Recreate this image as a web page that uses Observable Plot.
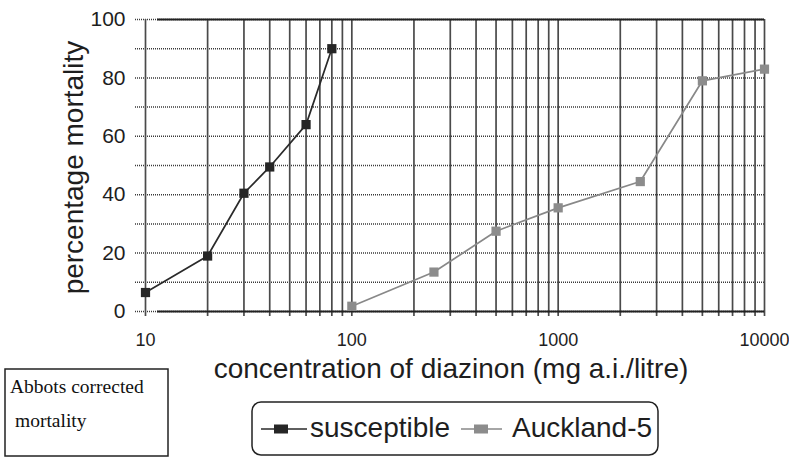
<!DOCTYPE html>
<html>
<head>
<meta charset="utf-8">
<script src="https://cdn.jsdelivr.net/npm/d3@7"></script>
<script src="https://cdn.jsdelivr.net/npm/@observablehq/plot@0.6"></script>
<style>
  html, body { margin: 0; padding: 0; background: #fff; }
  #chart { position: relative; width: 789px; height: 457px; overflow: hidden; background: #fff; }
  #chart svg { display: block; }
  #overlay { position: absolute; left: 0; top: 0; pointer-events: none; }
</style>
</head>
<body>
<div id="chart"></div>
<script>
// ---- data ----
const seriesNames = ["susceptible", "Auckland-5"];
const concSusceptible = [10, 20, 30, 40, 60, 80];
const mortSusceptible = [6.5, 19, 40.5, 49.5, 64, 90];
const concAuckland = [100, 250, 500, 1000, 2500, 5000, 10000];
const mortAuckland = [1.8, 13.5, 27.5, 35.5, 44.5, 79, 83];
const xTickLabels = [10, 100, 1000, 10000];
const yTickLabels = [0, 20, 40, 60, 80, 100];
const xDomain = [10, 10000];
const yDomain = [0, 100];
const xLabel = "concentration of diazinon (mg a.i./litre)";
const yLabel = "percentage mortality";
const noteLines = ["Abbots corrected", "mortality"];

const colors = {susceptible: "#2a2a2a", "Auckland-5": "#888888"};
const markerColors = {susceptible: "#262626", "Auckland-5": "#8c8c8c"};

const sus = concSusceptible.map((c, i) => ({conc: c, mort: mortSusceptible[i]}));
const auk = concAuckland.map((c, i) => ({conc: c, mort: mortAuckland[i]}));

// grid positions derived from the scales' own tick generators
const gridX = d3.scaleLog().domain(xDomain).ticks();
const gridY = d3.scaleLinear().domain(yDomain).ticks(10);

const plot = Plot.plot({
  width: 789,
  height: 457,
  marginLeft: 145,
  marginRight: 25,
  marginTop: 19,
  marginBottom: 146,
  x: {type: "log", domain: xDomain, axis: null},
  y: {domain: yDomain, axis: null},
  style: {fontFamily: "'Liberation Sans', Arial, Helvetica, sans-serif", color: "#1e1e1e", background: "white", overflow: "visible"},
  marks: [
    Plot.ruleY(gridY, {stroke: "#3a3a3a", strokeWidth: 1.5, strokeDasharray: "1,1", insetLeft: -10}),
    Plot.ruleX(gridX, {stroke: "#4a4a4a", strokeWidth: 1.7, insetBottom: -5}),
    Plot.ruleY(yDomain, {stroke: "#222", strokeWidth: 2, insetLeft: 12}),
    Plot.axisX({ticks: xTickLabels, tickSize: 0, tickPadding: 22, fontSize: 18, tickFormat: d => String(d), label: null}),
    Plot.axisY({ticks: yTickLabels, tickSize: 0, tickPadding: 20, fontSize: 21, tickFormat: d => String(d), label: null}),
    Plot.text([xLabel], {text: d => d, frameAnchor: "bottom", lineAnchor: "middle", textAnchor: "middle", dy: 58, dx: -4, fontSize: 28, fill: "#1e1e1e"}),
    Plot.text([yLabel], {text: d => d, frameAnchor: "left", lineAnchor: "middle", textAnchor: "middle", rotate: -90, dx: -71, dy: 2, fontSize: 28, fill: "#1e1e1e"}),
    Plot.line(sus, {x: "conc", y: "mort", stroke: colors.susceptible, strokeWidth: 1.7}),
    Plot.dot(sus, {x: "conc", y: "mort", symbol: "square", r: 5.2, fill: markerColors.susceptible, stroke: "none"}),
    Plot.line(auk, {x: "conc", y: "mort", stroke: colors["Auckland-5"], strokeWidth: 1.7}),
    Plot.dot(auk, {x: "conc", y: "mort", symbol: "square", r: 5.2, fill: markerColors["Auckland-5"], stroke: "none"})
  ]
});
document.getElementById("chart").appendChild(plot);

// ---- overlay: note box and legend ----
const ov = d3.select("#chart").append("svg")
  .attr("id", "overlay").attr("width", 789).attr("height", 457);

// note box
ov.append("rect").attr("x", 5).attr("y", 369).attr("width", 163).attr("height", 87)
  .attr("fill", "white").attr("stroke", "#222").attr("stroke-width", 1.5);
ov.append("text").attr("x", 10).attr("y", 393)
  .attr("font-family", "'Liberation Serif', 'Times New Roman', serif").attr("font-size", 19.5).attr("fill", "#111")
  .text(noteLines[0]);
ov.append("text").attr("x", 15).attr("y", 427)
  .attr("font-family", "'Liberation Serif', 'Times New Roman', serif").attr("font-size", 19.5).attr("fill", "#111")
  .text(noteLines[1]);

// legend
ov.append("rect").attr("x", 252).attr("y", 402).attr("width", 406).attr("height", 53).attr("rx", 9)
  .attr("fill", "white").attr("stroke", "#222").attr("stroke-width", 1.5);

const legendItems = [
  {name: seriesNames[0], x0: 261, x1: 307, mx: 281, tx: 310},
  {name: seriesNames[1], x0: 461, x1: 502, mx: 481, tx: 512}
];
legendItems.forEach(it => {
  ov.append("line").attr("x1", it.x0).attr("x2", it.x1).attr("y1", 429).attr("y2", 429)
    .attr("stroke", colors[it.name]).attr("stroke-width", 1.6);
  ov.append("rect").attr("x", it.mx - 7).attr("y", 429 - 4.5).attr("width", 14).attr("height", 9)
    .attr("fill", markerColors[it.name]);
  ov.append("text").attr("x", it.tx).attr("y", 437)
    .attr("font-family", "'Liberation Sans', Arial, Helvetica, sans-serif").attr("font-size", 28).attr("fill", "#1e1e1e")
    .text(it.name);
});
</script>
</body>
</html>
